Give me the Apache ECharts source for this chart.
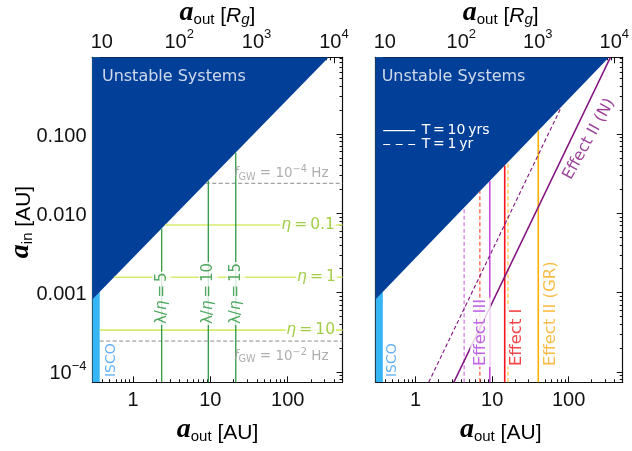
<!DOCTYPE html>
<html><head><meta charset="utf-8">
<script src="https://cdn.jsdelivr.net/npm/echarts@6/dist/echarts.min.js"></script>
<style>html,body{margin:0;padding:0;background:#fff}#c{width:632px;height:451px}</style>
</head><body><div id="c"></div>
<script>
// ---------- axis ranges & ticks ----------
const xMin = 0.3, xMax = 510;          // a_out [AU]
const yMin = 7.4e-5, yMax = 0.927;     // a_in [AU]
const rgPerAU = 25.3;                   // a_out [R_g] per AU
const xMajor = [1, 10, 100];
const xMinor = [0.4,0.5,0.6,0.7,0.8,0.9,2,3,4,5,6,7,8,9,20,30,40,50,60,70,80,90,200,300,400,500];
const rgMajor = [10, 100, 1000, 10000];
const rgMinor = [8,9,20,30,40,50,60,70,80,90,200,300,400,500,600,700,800,900,2000,3000,4000,5000,6000,7000,8000,9000];
const yMajor = [1e-4, 1e-3, 1e-2, 1e-1];
const yMinor = [8e-5,9e-5,2e-4,3e-4,4e-4,5e-4,6e-4,7e-4,8e-4,9e-4,2e-3,3e-3,4e-3,5e-3,6e-3,7e-3,8e-3,9e-3,0.02,0.03,0.04,0.05,0.06,0.07,0.08,0.09,0.2,0.3,0.4,0.5,0.6,0.7,0.8,0.9];

// ---------- regions ----------
const unstableAout = [0.3, 338];
const unstableAin  = [8.22e-4, 0.927];
const iscoAout = [0.3, 0.372];

// ---------- left panel ----------
const etaNames = ['0.1', '1', '10'];
const etaAin = [7.11e-3, 1.56e-3, 3.37e-4];
const lambdaNames = ['5', '10', '15'];
const lambdaAout = [2.35, 9.41, 21.3];
const fgwExp = ['\u22124', '\u22122'];
const fgwAin = [0.0239, 2.45e-4];

// ---------- right panel ----------
const effectNames = ['Effect III', 'Effect I', 'Effect II (GR)'];
const effectAout10yr = [9.31, 14.6, 40.1];
const effectAout1yr = [4.30, 6.91, 16.1];
const effN10Aout = [3.15, 352];
const effN10Ain = [7.4e-5, 0.927];
const effN1Aout = [1.48, 80.6];
const effN1Ain = [7.4e-5, 0.221];

// ---------- styles ----------
const DARK = '#023f98', CYAN = '#36b6f4';
const ETA_LINE = '#d6ec6c', ETA_TXT = '#8cc21e';
const LAM_LINE = '#2f9944', LAM_TXT = '#25923a';
const GW_LINE = '#8a8a8a', GW_TXT = '#9a9a9a';
const ISCO_TXT = '#3f9cf2';
const effSolid = ['#c94ddd', '#f4161c', '#ffb000'];
const effDash  = ['#d070e0', '#ff5030', '#ffc23a'];
const effText  = ['#b040e0', '#f0161c', '#f7ac1c'];
const PURPLE = '#82127f';
const SANS = 'DejaVu Sans';
const TICK_FONT = 'Liberation Sans';

const G = [{left: 92.5, top: 57.3, width: 250, height: 325}, {left: 375.7, top: 57.3, width: 250, height: 325}];

// boundary helpers (log-log interpolation of the unstable boundary)
function boundaryAoutAt(ain) {
  const lx0 = Math.log10(unstableAout[0]), lx1 = Math.log10(unstableAout[1]);
  const ly0 = Math.log10(unstableAin[0]), ly1 = Math.log10(unstableAin[1]);
  return Math.pow(10, lx0 + (Math.log10(ain) - ly0) * (lx1 - lx0) / (ly1 - ly0));
}
function boundaryAinAt(aout) {
  const lx0 = Math.log10(unstableAout[0]), lx1 = Math.log10(unstableAout[1]);
  const ly0 = Math.log10(unstableAin[0]), ly1 = Math.log10(unstableAin[1]);
  return Math.pow(10, ly0 + (Math.log10(aout) - lx0) * (ly1 - ly0) / (lx1 - lx0));
}

const supRich = {
  b: {fontFamily: TICK_FONT, fontSize: 20, color: '#111', lineHeight: 24, verticalAlign: 'bottom'},
  s: {fontFamily: TICK_FONT, fontSize: 13, color: '#111', lineHeight: 13, verticalAlign: 'top'}
};
function fmtPow(v) {
  const e = Math.round(Math.log10(v));
  if (e === 1) return '{b|10}';
  return '{b|10}{s|' + (e < 0 ? '\u2212' + (-e) : e) + '}';
}

function mkX(gi, pos, isRg, major) {
  const mn = isRg ? xMin * rgPerAU : xMin, mx = isRg ? xMax * rgPerAU : xMax;
  const base = {
    type: 'log', logBase: 10, gridIndex: gi, position: pos, min: mn, max: mx,
    splitLine: {show: false}, axisPointer: {show: false}
  };
  if (major) {
    const vals = isRg ? rgMajor : xMajor;
    return Object.assign(base, {
      axisLine: {show: true, onZero: false, lineStyle: {color: '#111', width: 1.2}},
      axisTick: {show: true, inside: true, length: 6, customValues: vals, lineStyle: {color: '#111', width: 1}},
      axisLabel: isRg ? {show: true, customValues: vals, margin: 5, formatter: fmtPow, rich: supRich}
                      : {show: true, customValues: vals, margin: 8, fontFamily: TICK_FONT, fontSize: 20, color: '#111',
                         formatter: v => String(Math.round(v))}
    });
  }
  return Object.assign(base, {
    axisLine: {show: false},
    axisTick: {show: true, inside: true, length: 3, customValues: isRg ? rgMinor : xMinor, lineStyle: {color: '#111', width: 1}},
    axisLabel: {show: false}
  });
}
function mkY(gi, pos, major, labels) {
  const base = {
    type: 'log', logBase: 10, gridIndex: gi, position: pos, min: yMin, max: yMax,
    splitLine: {show: false}, axisPointer: {show: false}
  };
  if (major) {
    return Object.assign(base, {
      axisLine: {show: true, onZero: false, lineStyle: {color: '#111', width: 1.2}},
      axisTick: {show: true, inside: true, length: 6, customValues: yMajor, lineStyle: {color: '#111', width: 1}},
      axisLabel: labels ? {show: true, customValues: yMajor, margin: 6, rich: supRich, fontFamily: TICK_FONT, fontSize: 20, color: '#111',
        formatter: v => v >= 9e-4 ? '{b|' + v.toFixed(3) + '}' : fmtPow(v)} : {show: false}
    });
  }
  return Object.assign(base, {
    axisLine: {show: false},
    axisTick: {show: true, inside: true, length: 3, customValues: yMinor, lineStyle: {color: '#111', width: 1}},
    axisLabel: {show: false}
  });
}

const xAxis = [], yAxis = [];
[0, 1].forEach(gi => {
  xAxis.push(mkX(gi, 'bottom', false, true), mkX(gi, 'bottom', false, false), mkX(gi, 'top', true, true), mkX(gi, 'top', true, false));
  yAxis.push(mkY(gi, 'left', true, gi === 0), mkY(gi, 'left', false), mkY(gi, 'right', true, false), mkY(gi, 'right', false));
});

const series = [];
function addLine(gi, pts, color, width, dashed, z) {
  series.push({
    type: 'line', xAxisIndex: gi * 4, yAxisIndex: gi * 4, data: pts, symbol: 'none', silent: true,
    lineStyle: {color: color, width: width, type: dashed ? [4, 2.5] : 'solid'}, z: z || 3, animation: false
  });
}
function addRegions(gi) {
  series.push({
    type: 'line', xAxisIndex: gi * 4, yAxisIndex: gi * 4, symbol: 'none', silent: true, z: 1,
    data: iscoAout.map(x => [x, yMax]), lineStyle: {width: 0}, areaStyle: {color: CYAN, opacity: 1, origin: 'start'}
  });
  series.push({
    type: 'line', xAxisIndex: gi * 4, yAxisIndex: gi * 4, symbol: 'none', silent: true, z: 2,
    data: unstableAout.map((x, i) => [x, unstableAin[i]]), lineStyle: {width: 0},
    areaStyle: {color: DARK, opacity: 1, origin: 'end'}
  });
}
const labelItems = [[], []];
function addLabel(gi, x, y, text, rich, opts) {
  labelItems[gi].push({
    value: [x, y],
    label: Object.assign({show: true, position: 'inside', formatter: text, rich: rich}, opts || {})
  });
}
function richSet(color, size) {
  return {
    n: {fontFamily: SANS, fontSize: size, color: color, lineHeight: size + 4, verticalAlign: 'middle'},
    i: {fontFamily: SANS, fontSize: size, color: color, fontStyle: 'italic', lineHeight: size + 4, verticalAlign: 'middle'},
    sub: {fontFamily: SANS, fontSize: size * 0.72, color: color, lineHeight: size * 0.72, verticalAlign: 'bottom'},
    sup: {fontFamily: SANS, fontSize: size * 0.72, color: color, lineHeight: size * 0.72, verticalAlign: 'top'}
  };
}
const TS = '\u2009';

// ---------- left panel ----------
addRegions(0);
etaAin.forEach((y, i) => {
  const x0 = Math.max(iscoAout[1], boundaryAoutAt(y));
  addLine(0, [[x0, y], [xMax, y]], ETA_LINE, 1.6, false);
});
fgwAin.forEach((y, i) => {
  const x0 = Math.max(iscoAout[1], boundaryAoutAt(y));
  addLine(0, [[x0, y], [xMax, y]], GW_LINE, 1, true);
});
lambdaAout.forEach((x, i) => {
  addLine(0, [[x, yMin], [x, boundaryAinAt(x)]], LAM_LINE, 1.3, false);
});
const etaLabelX = [80, 128, 93];
etaNames.forEach((n, i) => addLabel(0, etaLabelX[i], etaAin[i], '{i|η}{n|' + TS + '=' + TS + n + '}', richSet(ETA_TXT, 15.5),
  {align: 'left', verticalAlign: 'middle', backgroundColor: '#fff', padding: [0, 1, 0, 1]}));
lambdaNames.forEach((n, i) => addLabel(0, lambdaAout[i], 3.9e-4, '{n|λ/}{i|η}{n|' + TS + '=' + TS + n + '}', richSet(LAM_TXT, 15),
  {align: 'left', verticalAlign: 'middle', rotate: 90, backgroundColor: '#fff', padding: [0, 1, 0, 1]}));
const gwLabelY = [0.0319, 1.585e-4];
fgwExp.forEach((e, i) => addLabel(0, 336, gwLabelY[i], '{i|f}{sub|GW}{n| = 10}{sup|' + e + '}{n| Hz}', richSet(GW_TXT, 13.5),
  {align: 'right', verticalAlign: 'middle'}));
addLabel(0, 0.53, 8.6e-5, '{n|ISCO}', richSet(ISCO_TXT, 14), {align: 'left', verticalAlign: 'middle', rotate: 90});
addLabel(0, 0.397, 0.52, '{n|Unstable Systems}', richSet('#ffffff', 16), {align: 'left', verticalAlign: 'middle'});

// ---------- right panel ----------
addRegions(1);
effectAout10yr.forEach((x, i) => addLine(1, [[x, yMin], [x, boundaryAinAt(x)]], effSolid[i], 1.6, false));
effectAout1yr.forEach((x, i) => addLine(1, [[x, yMin], [x, boundaryAinAt(x)]], effDash[i], 1.2, true));
addLine(1, effN10Aout.map((x, i) => [x, effN10Ain[i]]), PURPLE, 1.5, false);
addLine(1, effN1Aout.map((x, i) => [x, effN1Ain[i]]), PURPLE, 1.1, true);
const effLabelX = [7.05, 21.0, 58.4];
effectNames.forEach((n, i) => addLabel(1, effLabelX[i], 1.15e-4, '{n|' + n + '}', richSet(effText[i], 16.5),
  {align: 'left', verticalAlign: 'middle', rotate: 90, backgroundColor: '#fff', padding: [0, 1, 0, 1]}));
addLabel(1, 185, 0.086, '{n|Effect II (N)}', richSet(PURPLE, 16), {align: 'center', verticalAlign: 'middle', rotate: 61});
addLabel(1, 0.492, 8.6e-5, '{n|ISCO}', richSet(ISCO_TXT, 14), {align: 'left', verticalAlign: 'middle', rotate: 90});
addLabel(1, 0.359, 0.52, '{n|Unstable Systems}', richSet('#ffffff', 16), {align: 'left', verticalAlign: 'middle'});

[0, 1].forEach(gi => series.push({
  type: 'scatter', xAxisIndex: gi * 4, yAxisIndex: gi * 4, symbolSize: 1, silent: true, z: 5,
  itemStyle: {color: 'rgba(0,0,0,0)'}, data: labelItems[gi], animation: false
}));

// ---------- axis titles & legend ----------
const titleRich = {
  a: {fontFamily: 'Liberation Serif', fontWeight: 'bold', fontStyle: 'italic', fontSize: 28, color: '#111', lineHeight: 28, verticalAlign: 'bottom'},
  s: {fontFamily: TICK_FONT, fontSize: 15, color: '#111', lineHeight: 12, verticalAlign: 'bottom'},
  n: {fontFamily: TICK_FONT, fontSize: 21, color: '#111', lineHeight: 26, verticalAlign: 'bottom'},
  i: {fontFamily: TICK_FONT, fontSize: 21, fontStyle: 'italic', color: '#111', lineHeight: 26, verticalAlign: 'bottom'},
  si: {fontFamily: TICK_FONT, fontSize: 15, fontStyle: 'italic', color: '#111', lineHeight: 12, verticalAlign: 'bottom'}
};
const graphic = [];
G.forEach(g => {
  const cx = g.left + g.width / 2;
  graphic.push({type: 'text', x: cx, y: 430, style: {text: '{a|a}{s|out}{n| [AU]}', rich: titleRich, align: 'center', verticalAlign: 'middle'}});
  graphic.push({type: 'text', x: cx, y: 13, style: {text: '{a|a}{s|out}{n| [}{i|R}{si|g}{n|]}', rich: titleRich, align: 'center', verticalAlign: 'middle'}});
});
graphic.push({type: 'text', x: 21, y: 222, rotation: Math.PI / 2, style: {text: '{a|a}{s|in}{n| [AU]}', rich: titleRich, align: 'center', verticalAlign: 'middle'}});
const lg = G[1];
graphic.push({type: 'line', shape: {x1: lg.left + 7.5, y1: 130.7, x2: lg.left + 39.5, y2: 130.7}, style: {stroke: '#fff', lineWidth: 1.2}, z: 10});
graphic.push({type: 'line', shape: {x1: lg.left + 7.5, y1: 144.5, x2: lg.left + 39.5, y2: 144.5}, style: {stroke: '#fff', lineWidth: 1.2, lineDash: [7, 5.5]}, z: 10});
graphic.push({type: 'text', x: lg.left + 46, y: 130.7, z: 10, style: {text: 'T' + TS + '=' + TS + '10' + TS + 'yrs', fill: '#fff', font: '14px "DejaVu Sans"', align: 'left', verticalAlign: 'middle'}});
graphic.push({type: 'text', x: lg.left + 46, y: 144.5, z: 10, style: {text: 'T' + TS + '=' + TS + '1' + TS + 'yr', fill: '#fff', font: '14px "DejaVu Sans"', align: 'left', verticalAlign: 'middle'}});

const chart = echarts.init(document.getElementById('c'), null, {renderer: 'canvas'});
chart.setOption({
  animation: false,
  backgroundColor: '#fff',
  grid: G.map(g => Object.assign({containLabel: false}, g)),
  xAxis: xAxis, yAxis: yAxis, series: series, graphic: graphic
});
</script></body></html>
